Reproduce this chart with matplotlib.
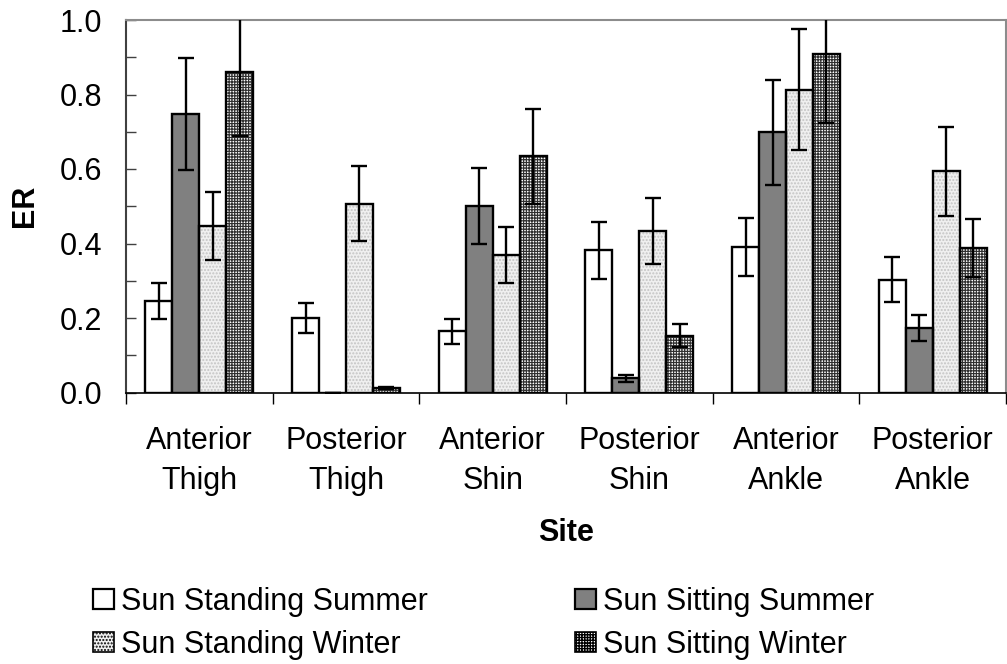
import matplotlib
matplotlib.use("Agg")
import matplotlib.pyplot as plt
import numpy as np
from matplotlib.patches import Patch

plt.rcParams['font.family'] = ['Liberation Sans', 'DejaVu Sans']

sites = ["Anterior\nThigh", "Posterior\nThigh", "Anterior\nShin",
         "Posterior\nShin", "Anterior\nAnkle", "Posterior\nAnkle"]
series_names = ["Sun Standing Summer", "Sun Sitting Summer",
                "Sun Standing Winter", "Sun Sitting Winter"]

standing_summer = [0.245, 0.199, 0.164, 0.382, 0.390, 0.303]
standing_summer_err = [0.049, 0.040, 0.033, 0.077, 0.078, 0.061]
sitting_summer = [0.747, 0.0, 0.501, 0.038, 0.698, 0.173]
sitting_summer_err = [0.150, 0.0, 0.101, 0.009, 0.140, 0.035]
standing_winter = [0.447, 0.507, 0.369, 0.434, 0.813, 0.594]
standing_winter_err = [0.090, 0.101, 0.074, 0.088, 0.162, 0.120]
sitting_winter = [0.861, 0.012, 0.634, 0.152, 0.908, 0.388]
sitting_winter_err = [0.173, 0.003, 0.127, 0.031, 0.184, 0.077]

yticks = [0.0, 0.2, 0.4, 0.6, 0.8, 1.0]

values = [standing_summer, sitting_summer, standing_winter, sitting_winter]
errors = [standing_summer_err, sitting_summer_err, standing_winter_err, sitting_winter_err]

FS = 22
fig = plt.figure(figsize=(10.07, 6.64), dpi=100)
ax = fig.add_axes([126/1007, 1-392.5/664, 880/1007, 372.5/664])

x = np.arange(len(sites))
w = 0.184
offsets = [-1.5, -0.5, 0.5, 1.5]

styles = [
    dict(face='white', hatch=None, hcol=None, hlw=1.0),
    dict(face='#808080', hatch=None, hcol=None, hlw=1.0),
    dict(face='#f0f0f0', hatch='.....', hcol='#c4c4c4', hlw=1.0),
    dict(face='white', hatch='++++++', hcol='#303030', hlw=0.85),
]

handles = []
for i, (vals, errs, st) in enumerate(zip(values, errors, styles)):
    pos = x + offsets[i]*w
    if st['hatch']:
        with plt.rc_context({'hatch.linewidth': st['hlw']}):
            ax.bar(pos, vals, width=w, color=st['face'], edgecolor=st['hcol'],
                   hatch=st['hatch'], linewidth=0, zorder=2)
        ax.bar(pos, vals, width=w, fill=False, edgecolor='black',
               linewidth=1.7, zorder=3)
    else:
        ax.bar(pos, vals, width=w, color=st['face'], edgecolor='black',
               linewidth=1.7, zorder=3)
    ax.errorbar(pos, vals, yerr=errs, fmt='none', ecolor='black',
                elinewidth=1.7, capsize=6, capthick=1.7, zorder=4)
    with plt.rc_context({'hatch.linewidth': st['hlw']}):
        if st['hatch']:
            h = Patch(facecolor=st['face'], edgecolor='black', hatch=st['hatch'],
                      linewidth=1.2)
        else:
            h = Patch(facecolor=st['face'], edgecolor='black', linewidth=1.6)
    handles.append(h)

ax.set_xlim(-0.5, len(sites) - 0.5)
ax.set_ylim(0, 1.0)

ax.set_yticks(yticks)
ax.set_yticklabels([f"{t:.1f}" for t in yticks], fontsize=FS)
ax.set_yticks(np.arange(0.1, 1.0, 0.2), minor=True)
ax.tick_params(axis='y', which='both', direction='in', length=7, width=1,
               color='#404040', pad=17)

ax.set_xticks(np.arange(-0.5, len(sites), 1.0))
ax.set_xticklabels([])
ax.set_xticks(x, minor=True)
ax.set_xticklabels(sites, minor=True, fontsize=FS, linespacing=1.45)
ax.tick_params(axis='x', which='major', direction='out', length=8, width=1,
               color='black')
ax.tick_params(axis='x', which='minor', length=0, pad=24)

ax.spines['left'].set_color('#404040')
ax.spines['left'].set_linewidth(1.5)
ax.spines['bottom'].set_color('black')
ax.spines['bottom'].set_linewidth(1.2)
ax.spines['top'].set_color('#8c8c8c')
ax.spines['top'].set_linewidth(1.5)
ax.spines['right'].set_color('#8c8c8c')
ax.spines['right'].set_linewidth(1.5)

ax.set_ylabel("ER", fontsize=FS, fontweight='bold', va='center')
ax.yaxis.set_label_coords((25-126)/880, 0.5)
ax.set_xlabel("Site", fontsize=FS, fontweight='bold')
ax.xaxis.label.set_va('center')
ax.xaxis.set_label_coords(0.5, (392.5-533)/372.5)

order = [0, 2, 1, 3]
leg = fig.legend([handles[k] for k in order], [series_names[k] for k in order],
                 ncol=2, loc='upper left',
                 bbox_to_anchor=(93/1007, 1-587/664),
                 frameon=False, fontsize=FS, handlelength=0.7, handleheight=0.65,
                 handletextpad=0.22, columnspacing=4.8, labelspacing=0.42,
                 borderpad=0, borderaxespad=0)

fig.savefig("out.png", dpi=100)
